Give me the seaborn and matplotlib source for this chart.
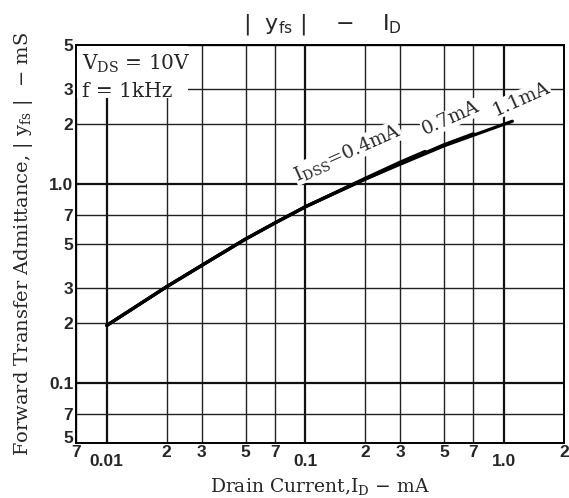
import numpy as np
import pandas as pd
import seaborn as sns
import matplotlib
matplotlib.use("Agg")
import matplotlib.pyplot as plt
from matplotlib.ticker import FixedLocator, FixedFormatter
from matplotlib.patches import Rectangle

# ---- data ----
id_11 = [0.01, 0.02, 0.03, 0.05, 0.07, 0.1, 0.2, 0.3, 0.5, 0.7, 1.1]
yfs_11 = [0.195, 0.305, 0.39, 0.53, 0.637, 0.77, 1.06, 1.26, 1.56, 1.76, 2.07]
id_07 = [0.01, 0.02, 0.03, 0.05, 0.07, 0.1, 0.2, 0.3, 0.5, 0.7]
yfs_07 = [0.195, 0.305, 0.39, 0.53, 0.637, 0.77, 1.06, 1.27, 1.58, 1.79]
id_04 = [0.01, 0.02, 0.03, 0.05, 0.07, 0.1, 0.2, 0.3, 0.4]
yfs_04 = [0.195, 0.305, 0.39, 0.53, 0.637, 0.77, 1.07, 1.29, 1.46]
idss_labels = ["$\\mathregular{I_{DSS}}$=0.4mA", "0.7mA", "1.1mA"]

x_major_ticks = [0.01, 0.1, 1.0]
x_major_labels = ["0.01", "0.1", "1.0"]
x_minor_ticks = [0.007, 0.02, 0.03, 0.05, 0.07, 0.2, 0.3, 0.5, 0.7, 2]
x_minor_labels = ["7", "2", "3", "5", "7", "2", "3", "5", "7", "2"]
y_major_ticks = [0.1, 1.0]
y_major_labels = ["0.1", "1.0"]
y_minor_ticks = [0.05, 0.07, 0.2, 0.3, 0.5, 0.7, 2, 3, 5]
y_minor_labels = ["5", "7", "2", "3", "5", "7", "2", "3", "5"]

sns.set_theme(style="white")
plt.rcParams["font.family"] = ["DejaVu Serif"]
plt.rcParams["mathtext.default"] = "regular"

df = pd.concat([
    pd.DataFrame({"ID": id_11, "Yfs": yfs_11, "curve": "1.1"}),
    pd.DataFrame({"ID": id_07, "Yfs": yfs_07, "curve": "0.7"}),
    pd.DataFrame({"ID": id_04, "Yfs": yfs_04, "curve": "0.4"}),
])

fig = plt.figure(figsize=(5.69, 4.98), dpi=100)
ax = fig.add_axes([0.1336, 0.1104, 0.8576, 0.7992])
ax.set_xscale("log")
ax.set_yscale("log")

sns.lineplot(data=df, x="ID", y="Yfs", units="curve", estimator=None,
             color="black", lw=2.3, ax=ax, legend=False, zorder=3)

ax.set_xlim(0.007, 2)
ax.set_ylim(0.05, 5)

ax.xaxis.set_major_locator(FixedLocator(x_major_ticks))
ax.xaxis.set_major_formatter(FixedFormatter(x_major_labels))
ax.xaxis.set_minor_locator(FixedLocator(x_minor_ticks))
ax.xaxis.set_minor_formatter(FixedFormatter(x_minor_labels))
ax.yaxis.set_major_locator(FixedLocator(y_major_ticks))
ax.yaxis.set_major_formatter(FixedFormatter(y_major_labels))
ax.yaxis.set_minor_locator(FixedLocator(y_minor_ticks))
ax.yaxis.set_minor_formatter(FixedFormatter(y_minor_labels))
ax.tick_params(axis="x", which="major", length=0, pad=8)
ax.tick_params(axis="x", which="minor", length=0, pad=1.5)
ax.tick_params(axis="y", which="both", length=0, pad=2)
for lab in ax.get_xticklabels(which="both") + ax.get_yticklabels(which="both"):
    lab.set_fontfamily("Liberation Sans")
    lab.set_fontweight("bold")
    lab.set_fontsize(12.5)
# bottom-left "5" sits on the corner, above the x-axis "7"
ax.get_yticklabels(which="minor")[0].set_verticalalignment("baseline")

ax.set_axisbelow(True)
ax.grid(True, which="major", color="#111111", lw=1.6)
ax.grid(True, which="minor", color="#222222", lw=1.0)
for s in ax.spines.values():
    s.set_color("black")
    s.set_linewidth(1.4)

# white panel behind conditions text
ax.add_patch(Rectangle((0.0, 0.868), 0.23, 0.132, transform=ax.transAxes,
                       facecolor="white", edgecolor="none", zorder=1.5))
ax.text(0.012, 0.952, "$\\mathregular{V_{DS}}$ = 10V", transform=ax.transAxes,
        fontsize=14.5, va="center", ha="left", zorder=4)
ax.text(0.012, 0.882, "f = 1kHz", transform=ax.transAxes,
        fontsize=14.5, va="center", ha="left", zorder=4)

lab_pos = [(0.162, 1.44), (0.54, 2.14), (1.22, 2.68)]
for (lx, ly), t in zip(lab_pos, idss_labels):
    ax.text(lx, ly, t, rotation=24, fontsize=13.5, ha="center", va="center",
            rotation_mode="anchor", zorder=4,
            bbox=dict(facecolor="white", edgecolor="none", pad=0.3))

ax.set_xlabel("Drain Current,$\\mathregular{I_D}$ $-$ mA", fontsize=13.5, labelpad=5)
ax.set_ylabel("Forward Transfer Admittance, | $\\mathregular{y_{fs}}$ |  $-$ mS",
              fontsize=14, labelpad=10)

fig.text(0.566, 0.950, "|  y$_{\\mathregular{fs}}$ |    $-$    I$_{\\mathregular{D}}$",
         family="DejaVu Sans", fontsize=16, ha="center", va="center")

fig.savefig("out.png", dpi=100)
